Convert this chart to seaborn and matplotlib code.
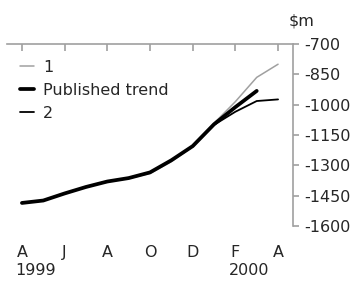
import pandas as pd
import numpy as np
import seaborn as sns
import matplotlib.pyplot as plt

# =============================================================================
# DATA ($m, monthly Apr 1999 - Apr 2000)
# =============================================================================

series_1 = [-1486, -1474, -1440, -1408, -1381, -1365, -1340, -1282, -1207, -1092, -985, -865, -800]
published_trend = [-1486, -1474, -1439, -1407, -1380, -1363, -1335, -1275, -1205, -1097, -1012, -932]
series_2 = [-1486, -1474, -1439, -1407, -1380, -1363, -1335, -1275, -1207, -1100, -1035, -982, -974]

tick_months = [0, 2, 4, 6, 8, 10, 12]
tick_labels = ["A", "J", "A", "O", "D", "F", "A"]
years = ["1999", "2000"]
year_months = [0, 10]

y_ticks = [-700, -850, -1000, -1150, -1300, -1450, -1600]

# =============================================================================
# STYLE
# =============================================================================

sns.set_style("white")
plt.rcParams["font.family"] = ["DejaVu Sans"]
plt.rcParams["font.size"] = 11.5

grey = "#a0a0a0"

fig = plt.figure(figsize=(3.61, 2.82), dpi=100)
ax = fig.add_axes([7 / 361, 1 - 226 / 282, 286 / 361, 182 / 282])

# =============================================================================
# LINES
# =============================================================================

sns.lineplot(x=range(len(series_1)), y=series_1, ax=ax,
             color=grey, linewidth=1.1, label="1")
sns.lineplot(x=range(len(published_trend)), y=published_trend, ax=ax,
             color="black", linewidth=2.7, label="Published trend",
             solid_capstyle="round")
sns.lineplot(x=range(len(series_2)), y=series_2, ax=ax,
             color="black", linewidth=1.3, label="2")

# draw the thick line on top
ax.lines[1].set_zorder(5)

ax.set_xlim(-0.7, 12.7)
ax.set_ylim(-1600, -700)

# =============================================================================
# AXES
# =============================================================================

for side in ["left", "bottom"]:
    ax.spines[side].set_visible(False)
for side in ["top", "right"]:
    ax.spines[side].set_visible(True)
    ax.spines[side].set_color(grey)
    ax.spines[side].set_linewidth(1.2)

ax.yaxis.tick_right()
ax.set_yticks(y_ticks)
ax.set_yticklabels([str(v) for v in y_ticks])
ax.tick_params(axis="y", direction="out", length=4, width=1.2,
               color=grey, pad=4, labelsize=11.5)

ax.xaxis.set_ticks_position("top")
ax.set_xticks(tick_months)
ax.set_xticklabels(tick_labels)
ax.tick_params(axis="x", direction="in", length=5, width=1.2, color=grey,
               labeltop=False, labelbottom=True, pad=14, labelsize=11.5)

for yr, m in zip(years, year_months):
    ax.text(m - 0.3, -0.245, yr, transform=ax.get_xaxis_transform(),
            ha="left", va="center", fontsize=11.5)

fig.text(289 / 361, 1 - 21 / 282, r"\$m", ha="left", va="center", fontsize=11.5)

ax.set_xlabel("")
ax.set_ylabel("")

ax.legend(loc="upper left", bbox_to_anchor=(20 / 361, 1 - 60 / 282),
          bbox_transform=fig.transFigure, frameon=False, borderpad=0,
          borderaxespad=0, handlelength=0.9, handletextpad=0.55,
          labelspacing=0.5, fontsize=11.5)

fig.savefig("out.png", dpi=100)
